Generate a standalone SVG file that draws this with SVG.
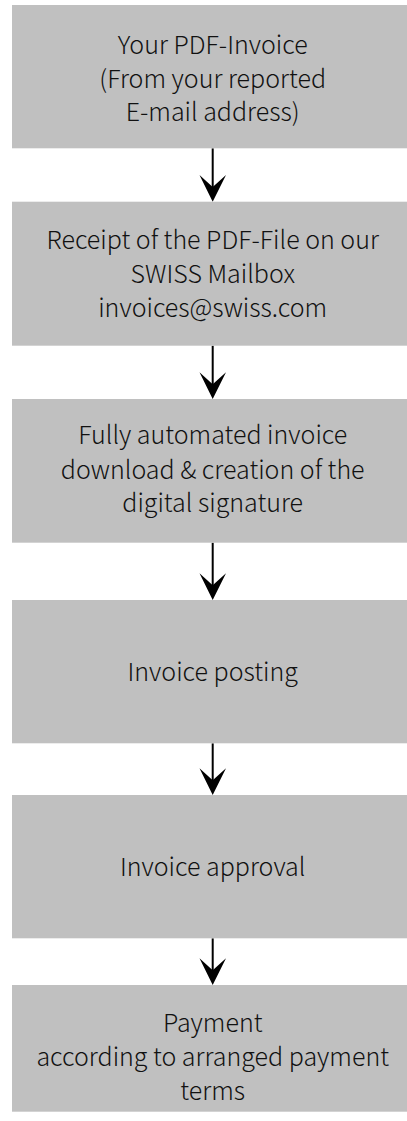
<svg xmlns="http://www.w3.org/2000/svg" width="407" height="1121" viewBox="0 0 407 1121">
<style>
.box{fill:#c0c0c0;stroke:none}
.t{font-family:"Noto Sans CJK JP","Noto Sans",sans-serif;font-size:25px;font-weight:300;fill:#111;text-anchor:middle}
.ln{stroke:#000;stroke-width:2;fill:none}
.hd{fill:#000;stroke:none}
</style>
<rect width="407" height="1121" fill="#fff"/>
<g id="connectors">
<line class="ln" x1="212.7" y1="148.3" x2="212.7" y2="188"/>
<path class="hd" d="M212.7,201.7 L199.5,175 L212.7,187 L226,175 Z"/>
<line class="ln" x1="212.7" y1="345.7" x2="212.7" y2="385"/>
<path class="hd" d="M212.7,399 L199.5,372.3 L212.7,384.3 L226,372.3 Z"/>
<line class="ln" x1="212.7" y1="542.7" x2="212.7" y2="586"/>
<path class="hd" d="M212.7,600 L199.5,573.3 L212.7,585.3 L226,573.3 Z"/>
<line class="ln" x1="212.7" y1="743.3" x2="212.7" y2="781"/>
<path class="hd" d="M212.7,795 L199.5,768.3 L212.7,780.3 L226,768.3 Z"/>
<line class="ln" x1="212.7" y1="938.3" x2="212.7" y2="971"/>
<path class="hd" d="M212.7,985 L199.5,958.3 L212.7,970.3 L226,958.3 Z"/>
</g>
<g id="n1">
<rect class="box" x="12" y="5" width="401" height="143.3"/>
<text class="t" x="212.7" y="54">Your PDF-Invoice</text>
<text class="t" x="212.7" y="87.5">(From your reported</text>
<text class="t" x="212.7" y="121">E-mail address)</text>
</g>
<g id="n2">
<rect class="box" x="12" y="201.7" width="401" height="144"/>
<text class="t" x="212.7" y="249">Receipt of the PDF-File on our</text>
<text class="t" x="212.7" y="283">SWISS Mailbox</text>
<text class="t" x="212.7" y="317">invoices@swiss.com</text>
</g>
<g id="n3">
<rect class="box" x="12" y="399" width="401" height="143.7"/>
<text class="t" x="212.7" y="444">Fully automated invoice</text>
<text class="t" x="212.7" y="478.5">download &amp; creation of the</text>
<text class="t" x="212.7" y="512">digital signature</text>
</g>
<g id="n4">
<rect class="box" x="12" y="600" width="401" height="143.3"/>
<text class="t" x="212.7" y="680.5">Invoice posting</text>
</g>
<g id="n5">
<rect class="box" x="12" y="795" width="401" height="143.3"/>
<text class="t" x="212.7" y="875.5">Invoice approval</text>
</g>
<g id="n6">
<rect class="box" x="12" y="985" width="401" height="126.7"/>
<text class="t" x="212.7" y="1032">Payment</text>
<text class="t" x="212.7" y="1066">according to arranged payment</text>
<text class="t" x="212.7" y="1100">terms</text>
</g>
</svg>
